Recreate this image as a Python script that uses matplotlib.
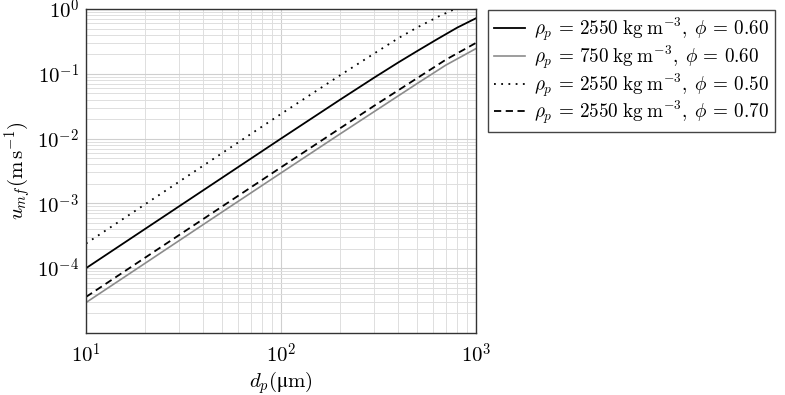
import matplotlib
matplotlib.use("Agg")
import matplotlib.pyplot as plt

plt.rcParams['mathtext.fontset'] = 'cm'
plt.rcParams['font.family'] = 'serif'
plt.rcParams['font.serif'] = ['DejaVu Serif']

# --- data (d_p in um, u_mf in m/s) ---
d_rho2550_phi060 = [10, 20, 50, 100, 200, 300, 400, 500, 630, 800, 1000]
u_rho2550_phi060 = [1.0e-4, 4.0e-4, 2.5e-3, 1.0e-2, 3.95e-2, 8.7e-2, 0.15, 0.225, 0.34, 0.515, 0.72]

d_rho750_phi060 = [10, 20, 50, 100, 200, 300, 500, 700, 1000]
u_rho750_phi060 = [2.95e-5, 1.18e-4, 7.4e-4, 2.95e-3, 1.17e-2, 2.6e-2, 7.1e-2, 0.136, 0.245]

d_rho2550_phi050 = [10, 20, 50, 100, 200, 300, 400, 500, 650, 780, 1000]
u_rho2550_phi050 = [2.4e-4, 9.6e-4, 6.0e-3, 2.4e-2, 9.4e-2, 0.205, 0.355, 0.52, 0.78, 1.0, 1.35]

d_rho2550_phi070 = [10, 20, 50, 100, 200, 300, 500, 700, 1000]
u_rho2550_phi070 = [3.6e-5, 1.44e-4, 9.0e-4, 3.6e-3, 1.43e-2, 3.2e-2, 8.6e-2, 0.165, 0.30]

labels = [r'$\rho_p\,=\,2550\;\mathrm{kg}\;\mathrm{m}^{-3},\;\phi\,=\,0.60$',
          r'$\rho_p\,=\,750\;\mathrm{kg}\;\mathrm{m}^{-3},\;\phi\,=\,0.60$',
          r'$\rho_p\,=\,2550\;\mathrm{kg}\;\mathrm{m}^{-3},\;\phi\,=\,0.50$',
          r'$\rho_p\,=\,2550\;\mathrm{kg}\;\mathrm{m}^{-3},\;\phi\,=\,0.70$']

fig = plt.figure(figsize=(7.85, 3.95), dpi=100)
ax = fig.add_axes([86 / 785, 62 / 395, 390 / 785, 324 / 395])

ax.plot(d_rho2550_phi060, u_rho2550_phi060, color='black', lw=1.3, label=labels[0])
ax.plot(d_rho750_phi060, u_rho750_phi060, color='#8c8c8c', lw=1.2, label=labels[1])
ax.plot(d_rho2550_phi050, u_rho2550_phi050, color='black', lw=1.3,
        linestyle=(0, (1, 3)), label=labels[2])
ax.plot(d_rho2550_phi070, u_rho2550_phi070, color='black', lw=1.3,
        linestyle=(0, (4, 2.5)), label=labels[3])

ax.set_xscale('log')
ax.set_yscale('log')
ax.set_xlim(10, 1000)
ax.set_ylim(1e-5, 1)
ax.set_yticks([1e-4, 1e-3, 1e-2, 1e-1, 1])
ax.set_yticklabels([r'$10^{-4}$', r'$10^{-3}$', r'$10^{-2}$', r'$10^{-1}$', r'$10^{0}$'])
ax.set_xticks([10, 100, 1000])
ax.set_xticklabels([r'$10^{1}$', r'$10^{2}$', r'$10^{3}$'])

ax.grid(True, which='major', color='#cfcfcf', lw=0.8)
ax.grid(True, which='minor', color='#dedede', lw=0.7)
ax.set_axisbelow(True)
ax.tick_params(which='both', direction='in', length=0, labelsize=15)
ax.tick_params(axis='y', pad=5)
ax.tick_params(axis='x', pad=7)
for s in ax.spines.values():
    s.set_color('#333333')
    s.set_linewidth(1.0)

ax.set_xlabel('$d_p(\\mathrm{\u03bcm})$', fontsize=15, labelpad=2)
ax.set_ylabel(r'$u_{mf}(\mathrm{m\,s^{-1}})$', fontsize=15, labelpad=2)

leg = fig.legend(loc='upper left', bbox_to_anchor=(488 / 785, 1 - 10 / 395),
                 fontsize=13.8, frameon=True, fancybox=False, framealpha=1,
                 edgecolor='#444444', handlelength=1.65, handletextpad=0.45,
                 labelspacing=0.0, borderpad=0.3, borderaxespad=0)
leg.get_frame().set_linewidth(1.0)

fig.savefig('out.png', dpi=100)
